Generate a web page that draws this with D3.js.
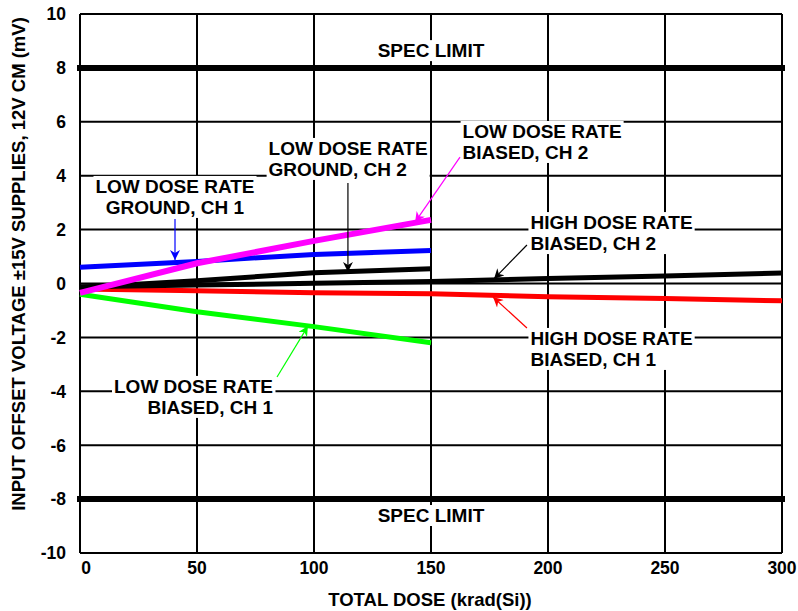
<!DOCTYPE html>
<html>
<head>
<meta charset="utf-8">
<script src="https://cdn.jsdelivr.net/npm/d3@7"></script>
<style>
  body { margin: 0; background: #fff; }
  text { font-family: "Liberation Sans", Arial, sans-serif; font-weight: bold; fill: #000; }
</style>
</head>
<body>
<div id="chart"></div>
<script>
// doses (krad(Si))
const lowDose = [0, 50, 100, 150];
const highDose = [0, 50, 100, 150, 200, 250, 300];

// offset voltage (mV)
const ldrGroundCh1 = [0.6, 0.82, 1.08, 1.22];
const ldrGroundCh2 = [-0.15, 0.1, 0.4, 0.55];
const ldrBiasedCh2 = [-0.35, 0.75, 1.58, 2.36];
const ldrBiasedCh1 = [-0.4, -1.05, -1.6, -2.2];
const hdrBiasedCh2 = [-0.12, -0.06, 0.01, 0.07, 0.19, 0.28, 0.39];
const hdrBiasedCh1 = [-0.2, -0.27, -0.34, -0.38, -0.49, -0.56, -0.64];

const specLimits = [8, -8];
const xTicks = [0, 50, 100, 150, 200, 250, 300];
const yTicks = [10, 8, 6, 4, 2, 0, -2, -4, -6, -8, -10];

const series = [
    { name: "ldrGroundCh1", x: lowDose, y: ldrGroundCh1, color: "#0000ff" },
    { name: "ldrBiasedCh1", x: lowDose, y: ldrBiasedCh1, color: "#00ff00" },
    { name: "hdrBiasedCh1", x: highDose, y: hdrBiasedCh1, color: "#ff0000" },
    { name: "hdrBiasedCh2", x: highDose, y: hdrBiasedCh2, color: "#000000" },
    { name: "ldrGroundCh2", x: lowDose, y: ldrGroundCh2, color: "#000000" },
    { name: "ldrBiasedCh2", x: lowDose, y: ldrBiasedCh2, color: "#ff00ff" }
];

// callouts, in data units: text anchor + arrow from/to
const notes = [
    { lines: ["LOW DOSE RATE", "GROUND, CH 1"], tx: 40.6, ty: 3.36, anchor: "middle", from: [40.6, 2.39], to: [40.6, 0.87], color: "#0000ff" },
    { lines: ["LOW DOSE RATE", "GROUND, CH 2"], tx: 80.6, ty: 4.77, anchor: "start", from: [114.5, 3.73], to: [114.5, 0.43], color: "#000000" },
    { lines: ["LOW DOSE RATE", "BIASED, CH 2"], tx: 163.5, ty: 5.4, anchor: "start", from: [162.4, 4.69], to: [143.2, 2.28], color: "#ff00ff" },
    { lines: ["HIGH DOSE RATE", "BIASED, CH 2"], tx: 192.5, ty: 2.02, anchor: "start", from: [191, 1.43], to: [176.9, 0.17], color: "#000000" },
    { lines: ["HIGH DOSE RATE", "BIASED, CH 1"], tx: 192.5, ty: -2.28, anchor: "start", from: [191, -1.65], to: [176.5, -0.5], color: "#ff0000" },
    { lines: ["LOW DOSE RATE", "BIASED, CH 1"], tx: 82.5, ty: -4.06, anchor: "end", from: [84.2, -3.47], to: [97.4, -1.58], color: "#00ff00" },
    { lines: ["SPEC LIMIT"], tx: 150, ty: 8.4, anchor: "middle" },
    { lines: ["SPEC LIMIT"], tx: 150, ty: -8.85, anchor: "middle" }
];

const width = 798, height = 611;
const margin = { top: 14, right: 16, bottom: 58, left: 80 };
const w = width - margin.left - margin.right;
const h = height - margin.top - margin.bottom;

const svg = d3.select("#chart").append("svg")
    .attr("width", width)
    .attr("height", height);

const defs = svg.append("defs");

const x = d3.scaleLinear().domain([0, 300]).range([0, w]);
const y = d3.scaleLinear().domain([-10, 10]).range([h, 0]);

const g = svg.append("g").attr("transform", `translate(${margin.left},${margin.top})`);

// grid
g.append("g")
    .selectAll("line.v")
    .data(xTicks)
    .enter().append("line")
    .attr("x1", d => x(d)).attr("x2", d => x(d))
    .attr("y1", 0).attr("y2", h)
    .attr("stroke", "#000").attr("stroke-width", 2);

g.append("g")
    .selectAll("line.h")
    .data(yTicks)
    .enter().append("line")
    .attr("x1", 0).attr("x2", w)
    .attr("y1", d => y(d)).attr("y2", d => y(d))
    .attr("stroke", "#000").attr("stroke-width", 2);

// spec limits
g.selectAll("line.spec")
    .data(specLimits)
    .enter().append("line")
    .attr("x1", x(0)).attr("x2", x(300))
    .attr("y1", d => y(d)).attr("y2", d => y(d))
    .attr("stroke", "#000").attr("stroke-width", 6)
    .attr("stroke-linecap", "square");

// tick labels
g.selectAll("text.ytick")
    .data(yTicks)
    .enter().append("text")
    .attr("x", -14)
    .attr("y", d => y(d))
    .attr("dy", "0.36em")
    .attr("text-anchor", "end")
    .style("font-size", "17.5px")
    .text(d => String(d));

g.selectAll("text.xtick")
    .data(xTicks)
    .enter().append("text")
    .attr("x", d => x(d))
    .attr("dx", d => d === 0 ? 6 : 0)
    .attr("y", h + 21)
    .attr("text-anchor", "middle")
    .style("font-size", "17.5px")
    .text(d => String(d));

// series
const line = d3.line()
    .x(d => x(d[0]))
    .y(d => y(d[1]));

g.selectAll("path.series")
    .data(series)
    .enter().append("path")
    .attr("d", s => line(s.x.map((v, i) => [v, s.y[i]])))
    .attr("fill", "none")
    .attr("stroke", s => s.color)
    .attr("stroke-width", s => s.color === "#ff00ff" ? 6 : 5);

// callouts
notes.forEach((n, k) => {
    const ng = g.append("g");
    const t = ng.append("text")
        .attr("text-anchor", n.anchor)
        .style("font-size", "19px");
    n.lines.forEach((l, i) => {
        t.append("tspan")
            .attr("x", x(n.tx))
            .attr("y", y(n.ty) + i * 21)
            .text(l);
    });
    const bb = t.node().getBBox();
    ng.insert("rect", "text")
        .attr("x", bb.x - 2).attr("y", bb.y)
        .attr("width", bb.width + 4).attr("height", bb.height)
        .attr("fill", "#fff");

    if (n.from) {
        defs.append("marker")
            .attr("id", "arrow" + k)
            .attr("viewBox", "0 0 10 10")
            .attr("refX", 10).attr("refY", 5)
            .attr("markerWidth", 14).attr("markerHeight", 10)
            .attr("markerUnits", "userSpaceOnUse")
            .attr("orient", "auto")
            .append("path")
            .attr("d", "M0,0 L10,5 L0,10 L3,5 Z")
            .attr("fill", n.color);
        g.append("line")
            .attr("x1", x(n.from[0])).attr("y1", y(n.from[1]))
            .attr("x2", x(n.to[0])).attr("y2", y(n.to[1]))
            .attr("stroke", n.color)
            .attr("stroke-width", 1.2)
            .attr("marker-end", `url(#arrow${k})`);
    }
});

// axis titles
svg.append("text")
    .attr("x", margin.left + w / 2 - 1)
    .attr("y", 606)
    .attr("text-anchor", "middle")
    .style("font-size", "18.5px")
    .text("TOTAL DOSE (krad(Si))");

svg.append("text")
    .attr("transform", `translate(25,${264}) rotate(-90)`)
    .attr("text-anchor", "middle")
    .style("font-size", "18.5px")
    .text("INPUT OFFSET VOLTAGE ±15V SUPPLIES, 12V CM (mV)");
</script>
</body>
</html>
